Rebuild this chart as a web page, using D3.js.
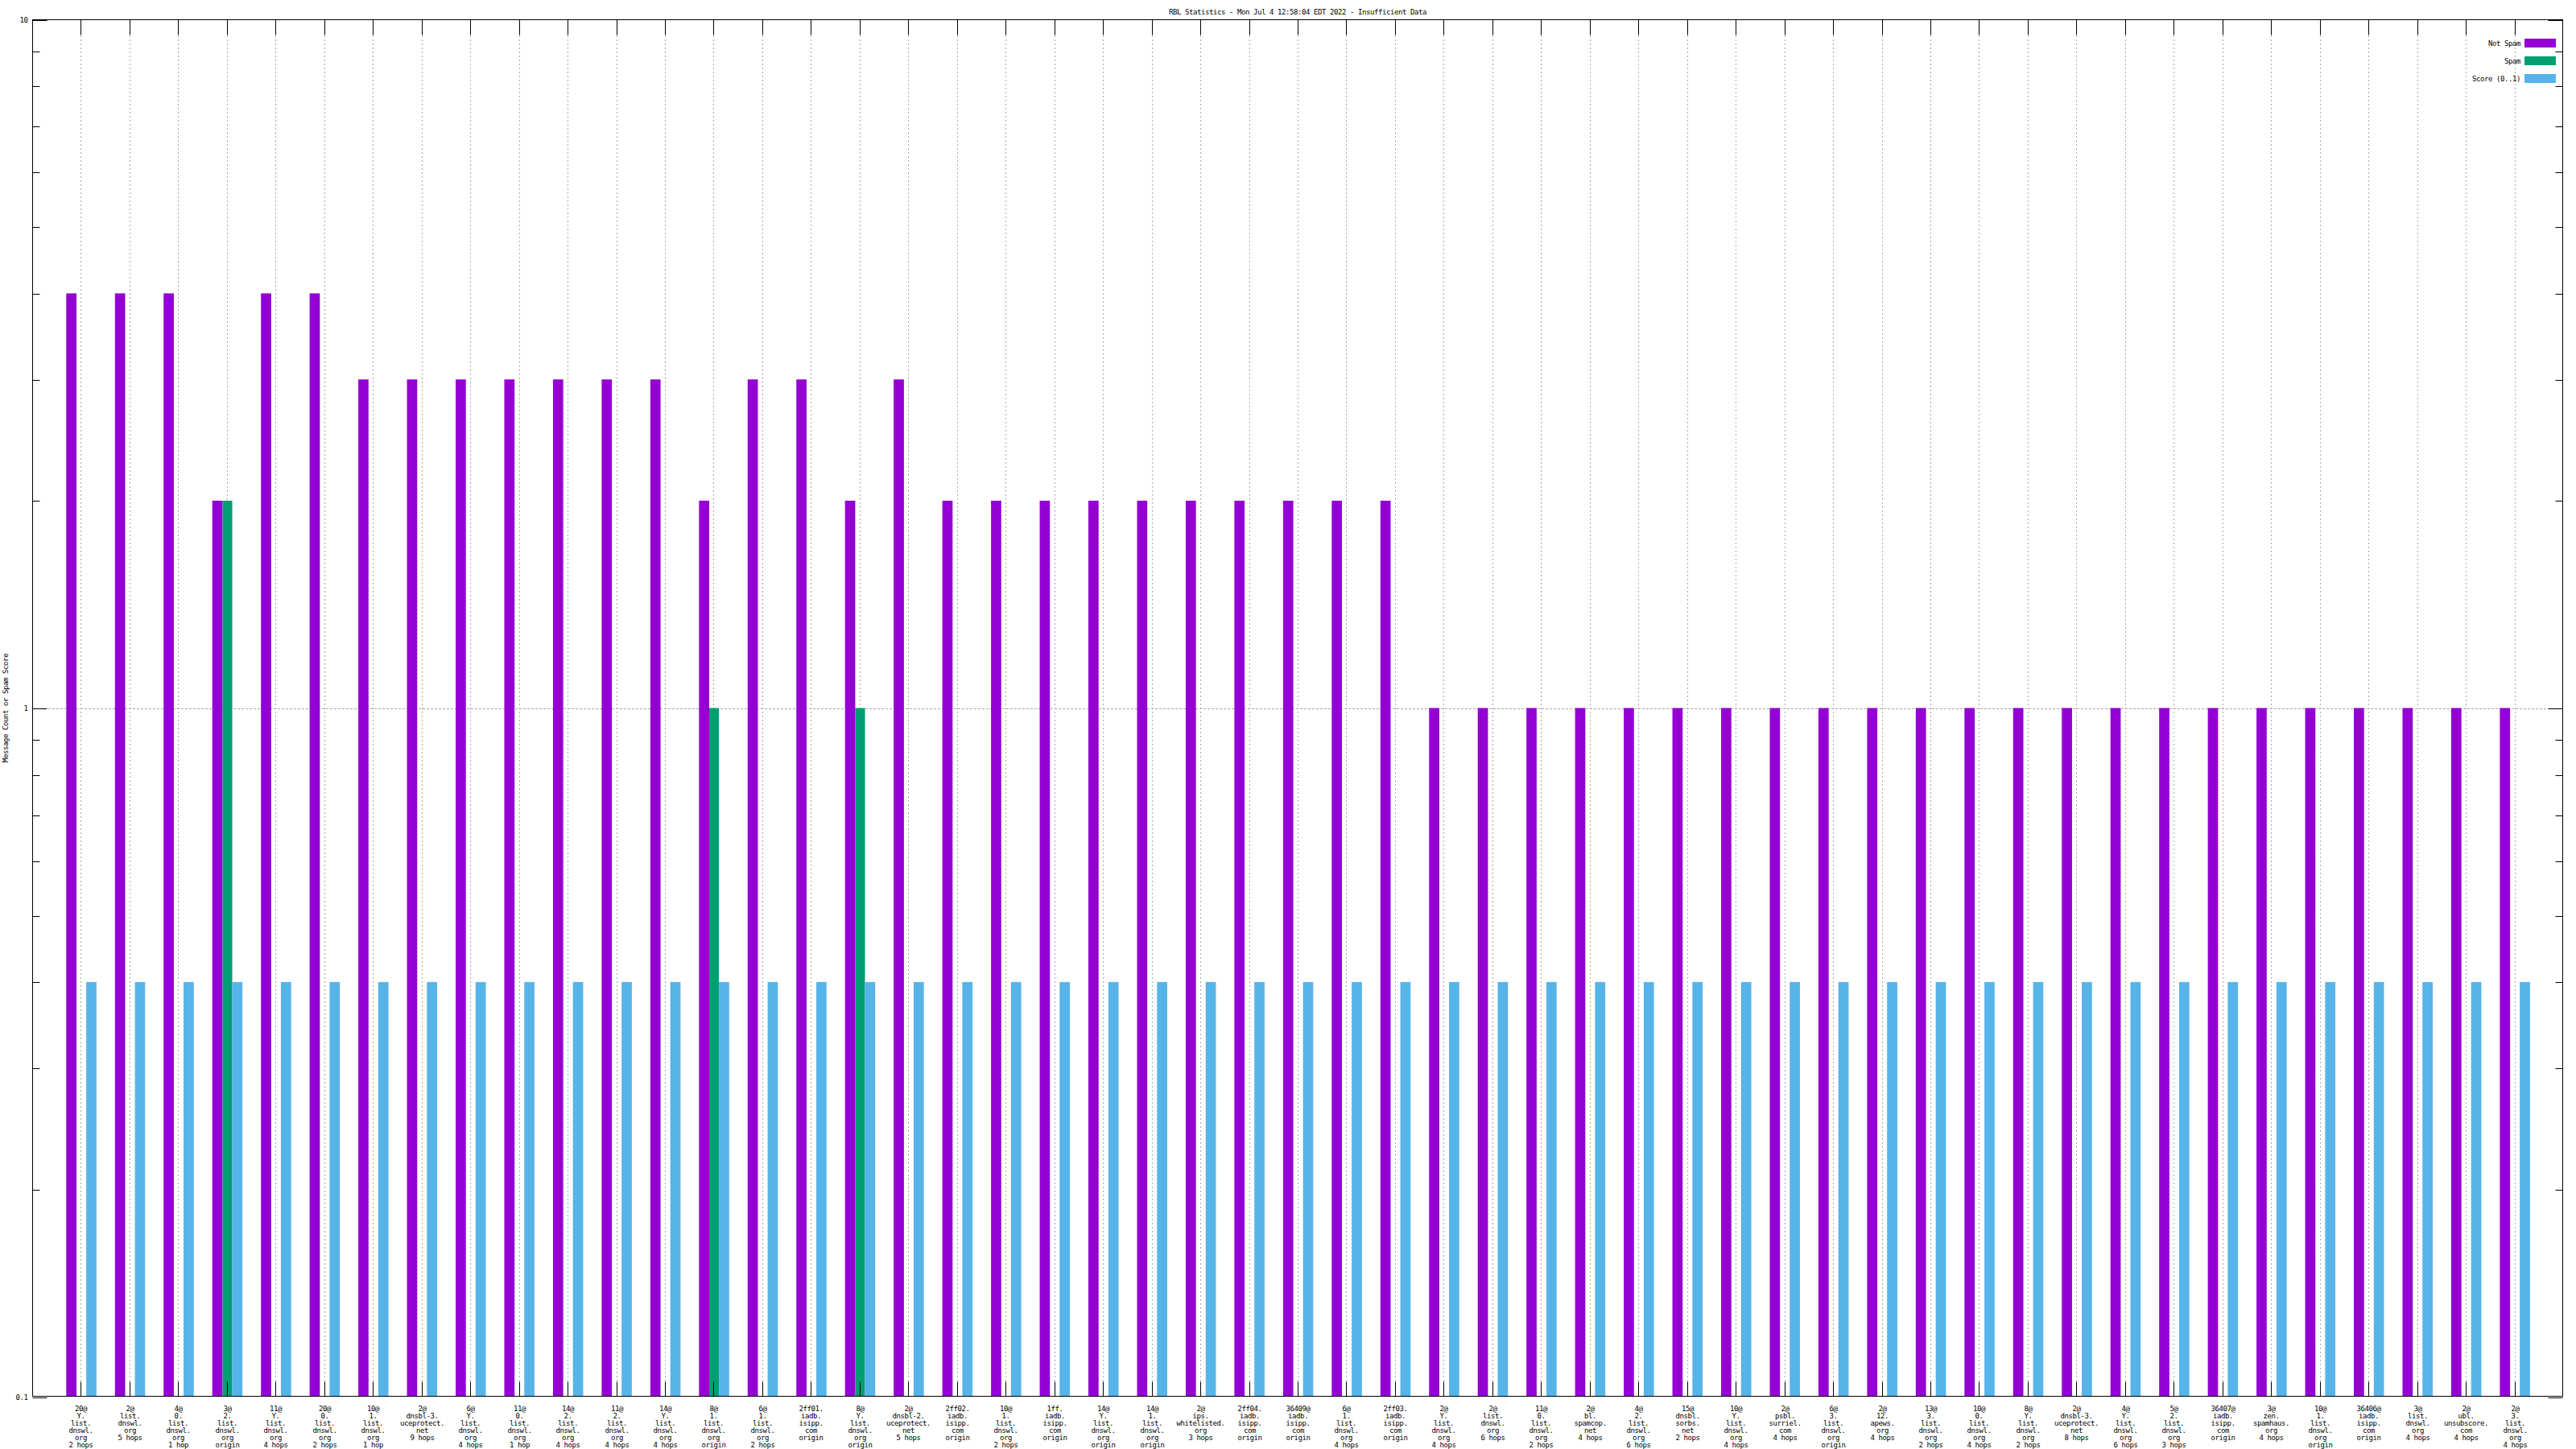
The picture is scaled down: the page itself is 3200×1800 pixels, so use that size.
<!DOCTYPE html>
<html>
<head>
<meta charset="utf-8">
<script src="https://cdn.jsdelivr.net/npm/d3@7"></script>
<style>
  html, body { margin: 0; padding: 0; background: #fff; }
  svg { display: block; }
  text { font-family: "DejaVu Sans Mono", "Liberation Mono", monospace; font-size: 9px; letter-spacing: -0.42px; fill: #000; }
</style>
</head>
<body>
<script>
// ---------------- data ----------------
const categories = [
  "20@\nY.\nlist.\ndnswl.\norg\n2 hops",
  "2@\nlist.\ndnswl.\norg\n5 hops",
  "4@\n0.\nlist.\ndnswl.\norg\n1 hop",
  "3@\n2.\nlist.\ndnswl.\norg\norigin",
  "11@\nY.\nlist.\ndnswl.\norg\n4 hops",
  "20@\n0.\nlist.\ndnswl.\norg\n2 hops",
  "10@\n1.\nlist.\ndnswl.\norg\n1 hop",
  "2@\ndnsbl-3.\nuceprotect.\nnet\n9 hops",
  "6@\nY.\nlist.\ndnswl.\norg\n4 hops",
  "11@\n0.\nlist.\ndnswl.\norg\n1 hop",
  "14@\n2.\nlist.\ndnswl.\norg\n4 hops",
  "11@\n2.\nlist.\ndnswl.\norg\n4 hops",
  "14@\nY.\nlist.\ndnswl.\norg\n4 hops",
  "8@\n1.\nlist.\ndnswl.\norg\norigin",
  "6@\n1.\nlist.\ndnswl.\norg\n2 hops",
  "2ff01.\niadb.\nisipp.\ncom\norigin",
  "8@\nY.\nlist.\ndnswl.\norg\norigin",
  "2@\ndnsbl-2.\nuceprotect.\nnet\n5 hops",
  "2ff02.\niadb.\nisipp.\ncom\norigin",
  "10@\n1.\nlist.\ndnswl.\norg\n2 hops",
  "1ff.\niadb.\nisipp.\ncom\norigin",
  "14@\nY.\nlist.\ndnswl.\norg\norigin",
  "14@\n1.\nlist.\ndnswl.\norg\norigin",
  "2@\nips.\nwhitelisted.\norg\n3 hops",
  "2ff04.\niadb.\nisipp.\ncom\norigin",
  "36409@\niadb.\nisipp.\ncom\norigin",
  "6@\n1.\nlist.\ndnswl.\norg\n4 hops",
  "2ff03.\niadb.\nisipp.\ncom\norigin",
  "2@\nY.\nlist.\ndnswl.\norg\n4 hops",
  "2@\nlist.\ndnswl.\norg\n6 hops",
  "11@\n0.\nlist.\ndnswl.\norg\n2 hops",
  "2@\nbl.\nspamcop.\nnet\n4 hops",
  "4@\n2.\nlist.\ndnswl.\norg\n6 hops",
  "15@\ndnsbl.\nsorbs.\nnet\n2 hops",
  "10@\nY.\nlist.\ndnswl.\norg\n4 hops",
  "2@\npsbl.\nsurriel.\ncom\n4 hops",
  "6@\n3.\nlist.\ndnswl.\norg\norigin",
  "2@\n12.\napews.\norg\n4 hops",
  "13@\n3.\nlist.\ndnswl.\norg\n2 hops",
  "10@\n0.\nlist.\ndnswl.\norg\n4 hops",
  "8@\nY.\nlist.\ndnswl.\norg\n2 hops",
  "2@\ndnsbl-3.\nuceprotect.\nnet\n8 hops",
  "4@\nY.\nlist.\ndnswl.\norg\n6 hops",
  "5@\n2.\nlist.\ndnswl.\norg\n3 hops",
  "36407@\niadb.\nisipp.\ncom\norigin",
  "3@\nzen.\nspamhaus.\norg\n4 hops",
  "10@\n1.\nlist.\ndnswl.\norg\norigin",
  "36406@\niadb.\nisipp.\ncom\norigin",
  "3@\nlist.\ndnswl.\norg\n4 hops",
  "2@\nubl.\nunsubscore.\ncom\n4 hops",
  "2@\n3.\nlist.\ndnswl.\norg\n4 hops"
];

const notSpam = [4,4,4,2,4,4,3,3,3,3,3,3,3,2,3,3,2,3,2,2,2,2,2,2,2,2,2,2,
                 1,1,1,1,1,1,1,1,1,1,1,1,1,1,1,1,1,1,1,1,1,1,1];
const spam    = [0,0,0,2,0,0,0,0,0,0,0,0,0,1,0,0,1,0,0,0,0,0,0,0,0,0,0,0,
                 0,0,0,0,0,0,0,0,0,0,0,0,0,0,0,0,0,0,0,0,0,0,0];
const score   = [0.4,0.4,0.4,0.4,0.4,0.4,0.4,0.4,0.4,0.4,0.4,0.4,0.4,0.4,0.4,0.4,0.4,
                 0.4,0.4,0.4,0.4,0.4,0.4,0.4,0.4,0.4,0.4,0.4,0.4,0.4,0.4,0.4,0.4,0.4,
                 0.4,0.4,0.4,0.4,0.4,0.4,0.4,0.4,0.4,0.4,0.4,0.4,0.4,0.4,0.4,0.4,0.4];

const seriesNames = ["Not Spam", "Spam", "Score (0..1)"];
const yMajorTicks = [0.1, 1, 10];
const yMinorTicks = [0.2,0.3,0.4,0.5,0.6,0.7,0.8,0.9,2,3,4,5,6,7,8,9];
const yTickLabels = ["0.1", "1", "10"];
const titleText = "RBL Statistics - Mon Jul  4 12:58:04 EDT 2022 - Insufficient Data";
const yAxisTitle = "Message Count or Spam Score";

// ---------------- layout ----------------
const W = 3200, H = 1800;
const L = 40, R = 3184, T = 24, B = 1735;
const colors = ["#9400d3", "#009e73", "#56b4e9"];
const offsets = [[-0.30, -0.09], [-0.09, 0.11], [0.11, 0.32]];

const svg = d3.select("body").append("svg").attr("width", W).attr("height", H);

const x = d3.scaleLinear().domain([-1, categories.length]).range([L, R]);
const y = d3.scaleLog().domain([0.1, 10]).range([B, T]);

// grid
const grid = svg.append("g").attr("stroke", "#a8a8a8").attr("stroke-width", 1).attr("stroke-dasharray", "2,3");
grid.selectAll("line.v").data(categories.map((c, i) => i)).join("line")
  .attr("x1", i => Math.round(x(i)) + 0.5).attr("x2", i => Math.round(x(i)) + 0.5)
  .attr("y1", T).attr("y2", B);
grid.append("line")
  .attr("stroke-dasharray", "3,2")
  .attr("x1", L).attr("x2", R)
  .attr("y1", Math.round(y(1)) + 0.5).attr("y2", Math.round(y(1)) + 0.5);

// bars
const seriesData = [notSpam, spam, score];
seriesData.forEach((vals, s) => {
  svg.append("g").selectAll("rect").data(vals.map((v, i) => ({v, i}))).join("rect")
    .filter(d => d.v > 0)
    .attr("x", d => x(d.i + offsets[s][0]))
    .attr("width", d => x(d.i + offsets[s][1]) - x(d.i + offsets[s][0]))
    .attr("y", d => y(d.v))
    .attr("height", d => y(0.1) - y(d.v))
    .attr("fill", colors[s]);
});

// axes
function styleAxis(g) {
  g.select(".domain").remove();
  g.selectAll(".tick line").attr("stroke", "#000").attr("stroke-width", 1);
  g.selectAll("text").attr("font-family", null).attr("font-size", null);
}
// left
svg.append("g").attr("transform", `translate(${L + 0.5},0)`)
  .call(d3.axisLeft(y).tickValues(yMajorTicks).tickSizeInner(-18).tickSizeOuter(0).tickPadding(6)
        .tickFormat((d, i) => yTickLabels[i]))
  .call(styleAxis);
svg.append("g").attr("transform", `translate(${L + 0.5},0)`)
  .call(d3.axisLeft(y).tickValues(yMinorTicks).tickSizeInner(-9).tickSizeOuter(0).tickFormat(""))
  .call(styleAxis);
// right
svg.append("g").attr("transform", `translate(${R - 0.5},0)`)
  .call(d3.axisRight(y).tickValues(yMajorTicks).tickSizeInner(-18).tickSizeOuter(0).tickFormat(""))
  .call(styleAxis);
svg.append("g").attr("transform", `translate(${R - 0.5},0)`)
  .call(d3.axisRight(y).tickValues(yMinorTicks).tickSizeInner(-9).tickSizeOuter(0).tickFormat(""))
  .call(styleAxis);
// snap tick lines to pixel grid
svg.selectAll(".tick").attr("transform", function() {
  const t = d3.select(this).attr("transform");
  const m = /translate\(([^,]+),([^)]+)\)/.exec(t);
  if (!m) return t;
  return `translate(${m[1]},${Math.round(+m[2]) + 0.5})`;
});

// bottom
const xb = svg.append("g").attr("transform", `translate(0,${B - 0.5})`)
  .call(d3.axisBottom(x).tickValues(categories.map((c, i) => i)).tickSizeInner(-18).tickSizeOuter(0).tickPadding(0)
        .tickFormat(""))
  .call(styleAxis);
xb.selectAll(".tick").attr("transform", function(d) { return `translate(${Math.round(x(d)) + 0.5},0)`; });
xb.selectAll(".tick").append("text")
  .attr("text-anchor", "middle")
  .each(function(d) {
    const lines = categories[d].split("\n");
    const t = d3.select(this);
    lines.forEach((ln, k) => {
      t.append("tspan").attr("x", 0).attr("y", 18 + k * 9).text(ln);
    });
  });
// top
const xt = svg.append("g").attr("transform", `translate(0,${T + 0.5})`)
  .call(d3.axisTop(x).tickValues(categories.map((c, i) => i)).tickSizeInner(-19).tickSizeOuter(0).tickFormat(""))
  .call(styleAxis);
xt.selectAll(".tick").attr("transform", function(d) { return `translate(${Math.round(x(d)) + 0.5},0)`; });

// border
svg.append("rect").attr("x", L + 0.5).attr("y", T + 0.5).attr("width", R - L - 1).attr("height", B - T - 1)
  .attr("fill", "none").attr("stroke", "#000").attr("stroke-width", 1);

// title
svg.append("text").attr("x", (L + R) / 2).attr("y", 18).attr("text-anchor", "middle").text(titleText);

// y axis title
svg.append("text").attr("transform", `translate(10,${(T + B) / 2}) rotate(-90)`)
  .attr("text-anchor", "middle").text(yAxisTitle);

// legend
const leg = svg.append("g");
seriesNames.forEach((name, s) => {
  const cy = 53.5 + s * 22;
  leg.append("text").attr("x", 3131).attr("y", cy + 3).attr("text-anchor", "end").text(name);
  leg.append("rect").attr("x", 3136).attr("y", cy - 5.5).attr("width", 39).attr("height", 11).attr("fill", colors[s]);
});
</script>
</body>
</html>
